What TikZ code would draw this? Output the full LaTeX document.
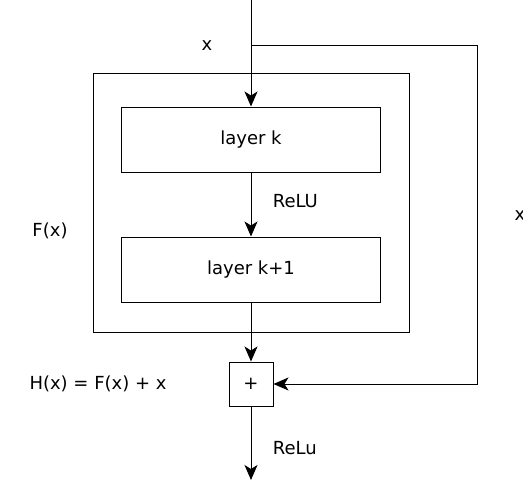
\documentclass[tikz,border=0pt]{standalone}
\usepackage{fontspec}
\setmainfont{DejaVu Sans}
\usepackage{tikz}
\usetikzlibrary{positioning, arrows.meta}

\begin{document}
\begin{tikzpicture}[
    x=1pt, y=-1pt,
    every node/.style={font=\fontsize{18}{21}\selectfont, align=center},
    box/.style={draw, line width=1pt, minimum width=259pt, minimum height=65pt, inner sep=0pt},
    arr/.style={-{Stealth[length=15pt, width=13pt, inset=4pt]}, line width=1pt}
]
\useasboundingbox (0,0) rectangle (523,480);
\node[draw, line width=1pt, minimum width=316pt, minimum height=259pt] (block) at (251,202.5) {};
\node[box] (lk) at (251,139.5) {layer k};
\node[box] (lk1) at (251,269.5) {layer k+1};
\node[draw, line width=1pt, minimum size=44pt, inner sep=0pt] (plus) at (251,384) {+};
\coordinate (top) at (251,0);
\coordinate (split) at (251,45);
\coordinate (out) at (251,480);
\node (xin) at (207,46) {x};
\node (xskip) at (520,216) {x};
\node (fx) at (50,231) {F(x)};
\node (hx) at (98,384) {H(x) = F(x) + x};
\draw[arr] (top) -- (lk);
\draw[arr] (lk) -- node[right, xshift=18pt, yshift=3pt] (relu1) {ReLU} (lk1);
\draw[arr] (lk1) -- (plus);
\draw[arr] (split) -- (477,45) -- (477,384) -- (plus);
\draw[arr] (plus) -- node[right, xshift=18pt, yshift=-5pt] (relu2) {ReLu} (out);
\end{tikzpicture}
\end{document}
